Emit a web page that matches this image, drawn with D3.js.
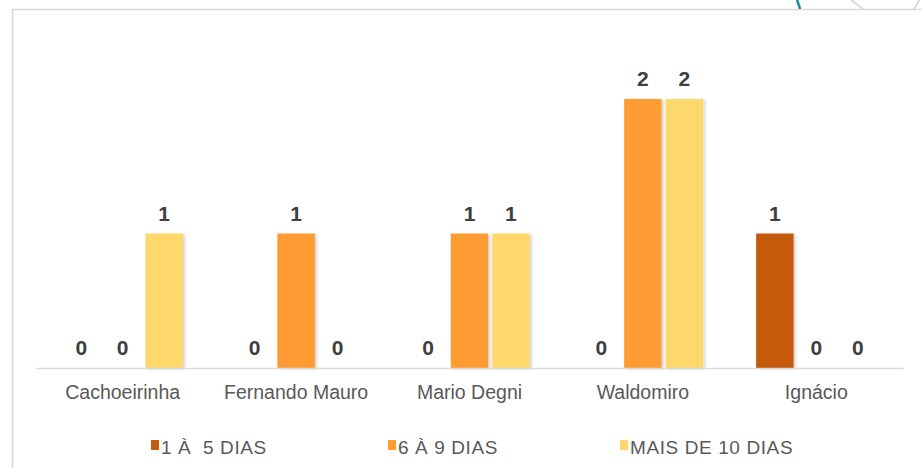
<!DOCTYPE html>
<html>
<head>
<meta charset="utf-8">
<script src="https://cdn.jsdelivr.net/npm/d3@7"></script>
<style>
  body { margin: 0; background: #fff; }
  svg { display: block; font-family: "Liberation Sans", Arial, sans-serif; }
</style>
</head>
<body>
<script>
// data
const categories = ["Cachoeirinha", "Fernando Mauro", "Mario Degni", "Waldomiro", "Ignácio"];
const seriesNames = ["1 À  5 DIAS", "6 À 9 DIAS", "MAIS DE 10 DIAS"];
const seriesColors = ["#c55a11", "#fe9b31", "#ffd86c"];
const dias1a5 = [0, 0, 0, 0, 1];
const dias6a9 = [0, 1, 1, 2, 0];
const mais10 = [1, 0, 1, 2, 0];

const values = [dias1a5, dias6a9, mais10];
const data = categories.map((c, i) => ({
  cat: c,
  vals: values.map((v, s) => ({ s: s, v: v[i] }))
}));

const width = 922, height = 468;
const svg = d3.select("body").append("svg")
    .attr("width", width)
    .attr("height", height);

// frame of the slide box
svg.append("path")
    .attr("d", "M12.5,468 V9.5 H922")
    .attr("fill", "none")
    .attr("stroke", "#d9d9d9")
    .attr("stroke-width", 1.5);

// bits of the slide decoration peeking in at the top right
svg.append("path")
    .attr("d", "M797,0 Q799,5 800,9")
    .attr("fill", "none")
    .attr("stroke", "#1f86a4")
    .attr("stroke-width", 2.5);
svg.append("path")
    .attr("d", "M851,0 L863,9 M922,-4 L914,9")
    .attr("fill", "none")
    .attr("stroke", "#d0d0d0")
    .attr("stroke-width", 1.5);

const x0 = d3.scaleBand()
    .domain(categories)
    .range([36, 903])
    .paddingInner(0.26)
    .paddingOuter(0.13);

const x1 = d3.scaleBand()
    .domain(d3.range(seriesNames.length))
    .range([0, x0.bandwidth()])
    .padding(0.096);

const y = d3.scaleLinear()
    .domain([0, 2])
    .range([368, 99]);

// shadow filter for bars
const defs = svg.append("defs");
const f = defs.append("filter").attr("id", "sh").attr("x", "-20%").attr("y", "-5%").attr("width", "150%").attr("height", "110%");
f.append("feDropShadow").attr("dx", 2).attr("dy", 1).attr("stdDeviation", 1.5).attr("flood-color", "#000").attr("flood-opacity", 0.18);

const groups = svg.selectAll("g.grp")
  .data(data)
  .join("g")
    .attr("class", "grp")
    .attr("transform", d => `translate(${x0(d.cat)},0)`);

groups.selectAll("rect")
  .data(d => d.vals.filter(e => e.v > 0))
  .join("rect")
    .attr("x", e => x1(e.s))
    .attr("y", e => y(e.v))
    .attr("width", x1.bandwidth())
    .attr("height", e => y(0) - y(e.v))
    .attr("fill", e => seriesColors[e.s])
    .attr("filter", "url(#sh)");

groups.selectAll("text")
  .data(d => d.vals)
  .join("text")
    .attr("x", e => x1(e.s) + x1.bandwidth() / 2)
    .attr("y", e => y(e.v) - 13)
    .attr("text-anchor", "middle")
    .attr("font-size", 21)
    .attr("font-weight", "bold")
    .attr("fill", "#404040")
    .text(e => e.v);

// category axis
const xAxis = svg.append("g")
    .attr("transform", `translate(0,${y(0)})`)
    .call(d3.axisBottom(x0).tickSize(0).tickPadding(17));
xAxis.select(".domain").attr("stroke", "#d9d9d9").attr("stroke-width", 1.5);
xAxis.selectAll("text")
    .attr("font-size", 19.5)
    .attr("font-family", "Liberation Sans, Arial, sans-serif")
    .attr("fill", "#595959");

// legend
const legendX = [151, 388, 620];
const legend = svg.append("g").attr("transform", "translate(0,454)");
const li = legend.selectAll("g")
  .data(seriesNames)
  .join("g")
    .attr("transform", (d, i) => `translate(${legendX[i]},0)`);
li.append("rect")
    .attr("x", 0).attr("y", -14)
    .attr("width", 8).attr("height", 10)
    .attr("fill", (d, i) => seriesColors[i]);
li.append("text")
    .attr("x", 10).attr("y", 0)
    .attr("font-size", 19)
    .attr("letter-spacing", 0.6)
    .attr("fill", "#595959")
    .style("white-space", "pre")
    .text(d => d);
</script>
</body>
</html>
